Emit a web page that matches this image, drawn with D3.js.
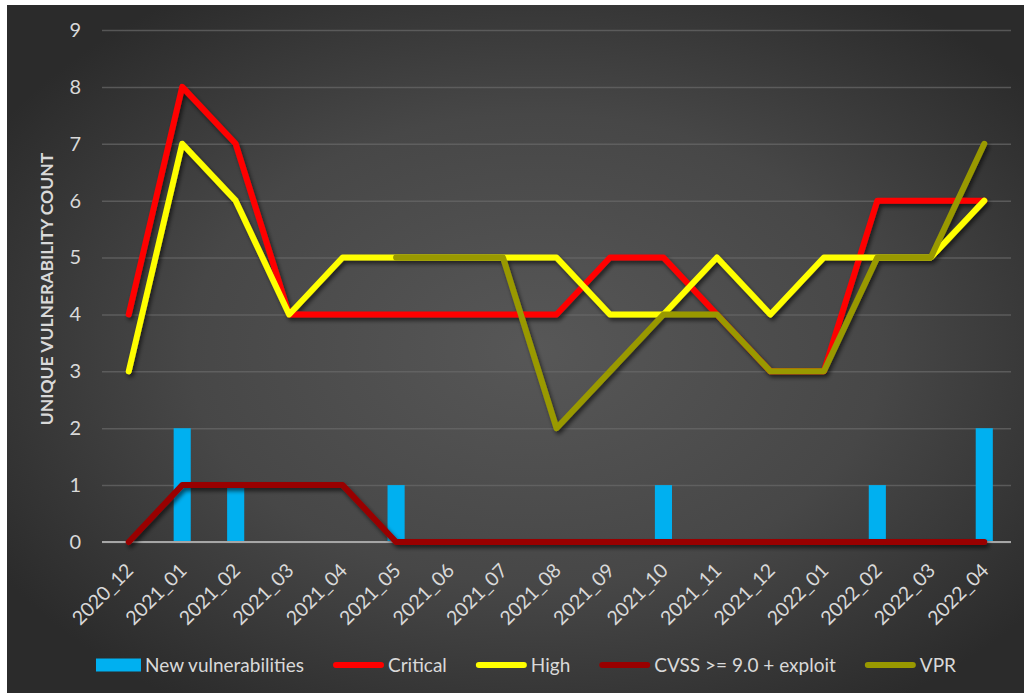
<!DOCTYPE html>
<html>
<head>
<meta charset="utf-8">
<script src="https://cdn.jsdelivr.net/npm/d3@7"></script>
<style>
  html, body { margin: 0; padding: 0; background: #ffffff; }
  svg { display: block; }
  text { font-family: Lato, "Open Sans", "Liberation Sans", sans-serif; }
</style>
</head>
<body>
<svg id="chart" width="1024" height="695"></svg>
<script>
// Monthly counts of unique vulnerabilities
const months = ["2020_12","2021_01","2021_02","2021_03","2021_04","2021_05","2021_06","2021_07",
                "2021_08","2021_09","2021_10","2021_11","2021_12","2022_01","2022_02","2022_03","2022_04"];
const newVulns    = [0, 2, 1, 0, 0, 1, 0, 0, 0, 0, 1, 0, 0, 0, 1, 0, 2];
const critical    = [4, 8, 7, 4, 4, 4, 4, 4, 4, 5, 5, 4, 3, 3, 6, 6, 6];
const high        = [3, 7, 6, 4, 5, 5, 5, 5, 5, 4, 4, 5, 4, 5, 5, 5, 6];
const cvssExploit = [0, 1, 1, 1, 1, 0, 0, 0, 0, 0, 0, 0, 0, 0, 0, 0, 0];
const vpr         = [null, null, null, null, null, 5, 5, 5, 2, 3, 4, 4, 3, 3, 5, 5, 7];
const yTicks = [0, 1, 2, 3, 4, 5, 6, 7, 8, 9];

const lineSeries = [
  { name: "Critical", values: critical, color: "#FF0000" },
  { name: "High", values: high, color: "#FFFF00" },
  { name: "CVSS >= 9.0 + exploit", values: cvssExploit, color: "#990000" },
  { name: "VPR", values: vpr, color: "#999900" }
];
const barSeries = { name: "New vulnerabilities", values: newVulns, color: "#00B0F0" };

const svg = d3.select("#chart");
const frame = { left: 7, top: 5, right: 1024, bottom: 693 };
const plot = { left: 102, right: 1011, top: 30, bottom: 542 };

const defs = svg.append("defs");
const grad = defs.append("radialGradient")
  .attr("id", "bg").attr("cx", "52%").attr("cy", "50%").attr("r", "62%");
grad.append("stop").attr("offset", "0%").attr("stop-color", "#575757");
grad.append("stop").attr("offset", "55%").attr("stop-color", "#474747");
grad.append("stop").attr("offset", "100%").attr("stop-color", "#2b2b2b");

const shadow = defs.append("filter").attr("id", "shadow")
  .attr("x", "-10%").attr("y", "-10%").attr("width", "120%").attr("height", "120%");
shadow.append("feGaussianBlur").attr("in", "SourceAlpha").attr("stdDeviation", 2).attr("result", "b");
shadow.append("feOffset").attr("in", "b").attr("dx", 2).attr("dy", 3).attr("result", "o");
shadow.append("feComponentTransfer").attr("in", "o").attr("result", "s")
  .append("feFuncA").attr("type", "linear").attr("slope", 0.6);
const merge = shadow.append("feMerge");
merge.append("feMergeNode").attr("in", "s");
merge.append("feMergeNode").attr("in", "SourceGraphic");

svg.append("rect")
  .attr("x", frame.left).attr("y", frame.top)
  .attr("width", frame.right - frame.left).attr("height", frame.bottom - frame.top)
  .attr("fill", "url(#bg)");

const x = d3.scaleBand().domain(months).range([plot.left, plot.right]).padding(0);
const cx = m => x(m) + x.bandwidth() / 2;
const y = d3.scaleLinear().domain([0, 9]).range([plot.bottom, plot.top]);

// Gridlines and value labels
const yAxis = d3.axisLeft(y).tickValues(yTicks).tickFormat(d3.format("d"))
  .tickSize(-(plot.right - plot.left)).tickPadding(21);
const gy = svg.append("g").attr("transform", `translate(${plot.left},0)`).call(yAxis);
gy.select(".domain").remove();
gy.selectAll(".tick line").attr("stroke", "#6a6a6a").attr("stroke-opacity", 0.7).attr("stroke-width", 1.5);
gy.selectAll(".tick text").attr("fill", "#d9d9d9").attr("font-size", 20);

// Axis title
svg.append("text")
  .attr("transform", `translate(53,289) rotate(-90)`)
  .attr("text-anchor", "middle")
  .attr("fill", "#d9d9d9").attr("font-size", 17.5).attr("font-weight", "bold")
  .text("UNIQUE VULNERABILITY COUNT");

// Bars
svg.append("g").selectAll("rect").data(months).join("rect")
  .attr("x", m => cx(m) - x.bandwidth() * 0.16)
  .attr("width", x.bandwidth() * 0.32)
  .attr("y", (m, i) => y(barSeries.values[i]))
  .attr("height", (m, i) => y(0) - y(barSeries.values[i]))
  .attr("fill", barSeries.color);

// Category axis baseline
svg.append("line")
  .attr("x1", plot.left).attr("x2", plot.right)
  .attr("y1", y(0)).attr("y2", y(0))
  .attr("stroke", "#a6a6a6").attr("stroke-width", 2);

// Category labels
const xAxis = d3.axisBottom(x).tickSize(0).tickPadding(0);
const gx = svg.append("g").attr("transform", `translate(0,${plot.bottom})`).call(xAxis);
gx.select(".domain").remove();
gx.selectAll(".tick text")
  .attr("fill", "#d9d9d9").attr("font-size", 19.5)
  .attr("text-anchor", "end")
  .attr("dy", "0.35em")
  .attr("transform", "translate(1,25) rotate(-45)");

// Lines
const lineGen = d3.line()
  .defined(d => d.v !== null)
  .x(d => cx(d.m)).y(d => y(d.v));
svg.append("g").attr("filter", "url(#shadow)")
  .selectAll("path").data(lineSeries).join("path")
  .attr("d", s => lineGen(months.map((m, i) => ({ m, v: s.values[i] }))))
  .attr("fill", "none")
  .attr("stroke", s => s.color)
  .attr("stroke-width", 6)
  .attr("stroke-linejoin", "round")
  .attr("stroke-linecap", "round");

// Legend
const legendItems = [{ ...barSeries, type: "bar" }, ...lineSeries.map(s => ({ ...s, type: "line" }))];
const legend = svg.append("g");
const ly = 665, gap = 29, swW = 48;
let lx = 0;
legendItems.forEach(item => {
  const g = legend.append("g").attr("transform", `translate(${lx},0)`);
  if (item.type === "bar") {
    g.append("rect").attr("x", 0).attr("y", ly - 6.5).attr("width", 45).attr("height", 13).attr("fill", item.color);
  } else {
    g.append("line").attr("x1", 3).attr("x2", swW).attr("y1", ly).attr("y2", ly)
      .attr("stroke", item.color).attr("stroke-width", 6).attr("stroke-linecap", "round");
  }
  const sw = item.type === "bar" ? 45 : swW + 3;
  const t = g.append("text").attr("x", sw + 4).attr("y", ly).attr("dy", "0.35em")
    .attr("fill", "#d9d9d9").attr("font-size", 19).text(item.name);
  lx += sw + 4 + t.node().getComputedTextLength() + gap;
});
lx -= gap;
legend.attr("transform", `translate(${526 - lx / 2},0)`);
</script>
</body>
</html>
